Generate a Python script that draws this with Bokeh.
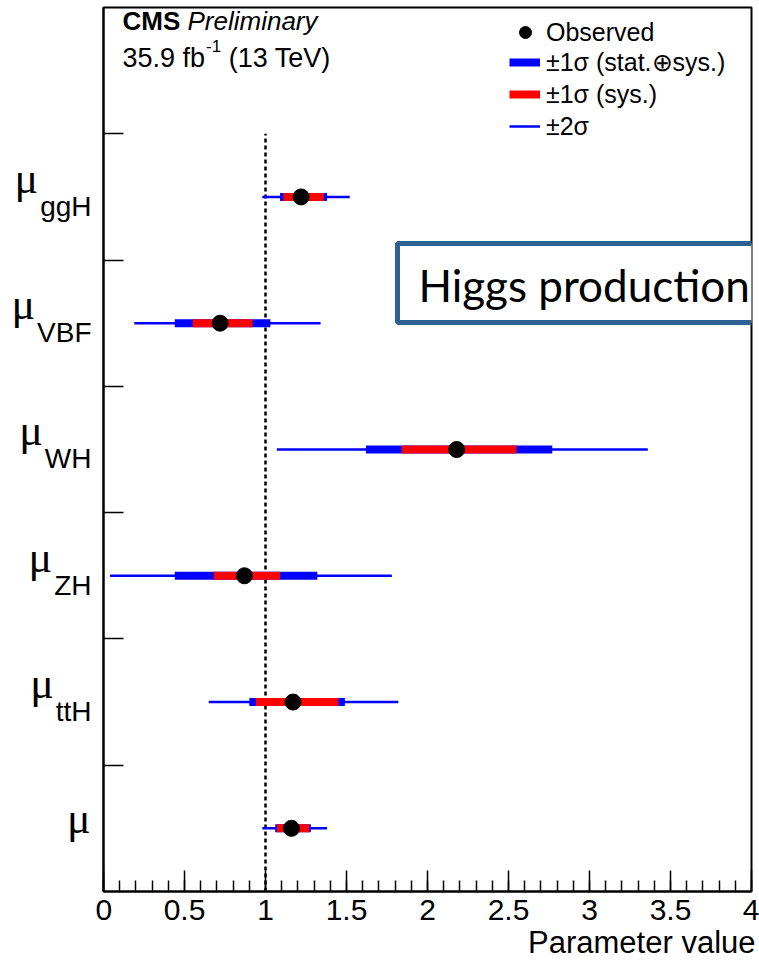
from bokeh.plotting import figure
from bokeh.layouts import row
from bokeh.models import (Range1d, SingleIntervalTicker, FixedTicker, Label, Title,
                          BoxAnnotation, Legend, LegendItem, ColumnDataSource)
from bokeh.core.properties import value
from bokeh.embed import file_html
from bokeh.resources import INLINE

# ---------------- data ----------------
categories = ["ggH", "VBF", "WH", "ZH", "ttH", ""]
positions = [5.5, 4.5, 3.5, 2.5, 1.5, 0.5]
observed = [1.22, 0.72, 2.18, 0.87, 1.17, 1.16]
tot_lo = [1.09, 0.44, 1.62, 0.44, 0.90, 1.06]
tot_hi = [1.38, 1.03, 2.77, 1.32, 1.49, 1.28]
sys_lo = [1.11, 0.55, 1.84, 0.68, 0.94, 1.07]
sys_hi = [1.36, 0.92, 2.55, 1.09, 1.45, 1.27]
two_lo = [0.98, 0.19, 1.07, 0.04, 0.65, 0.98]
two_hi = [1.52, 1.34, 3.36, 1.78, 1.82, 1.38]
x_ticks = [0, 0.5, 1, 1.5, 2, 2.5, 3, 3.5, 4]
x_tick_labels = ["0", "0.5", "1", "1.5", "2", "2.5", "3", "3.5", "4"]
sm_value = 1.0

legend_labels = ["Observed", "\u00b11\u03c3 (stat.\u2295sys.)", "\u00b11\u03c3 (sys.)", "\u00b12\u03c3"]

# ---------------- layout ----------------
W, H = 759, 961
L, R, T, B = 103, 8, 7, 70      # frame edges (canvas px)
LS = 95                          # width of the left label strip
ML = L - LS                      # left border of main figure
FB = H - B                       # frame bottom (canvas px)
PPU = (H - T - B) / 7.0          # pixels per y unit
BL = 0.38                        # baseline correction (em) for rendered text
SANS = "Liberation Sans"

HELV = {"0": .556, "1": .556, "2": .556, "3": .556, "4": .556, "5": .556, "6": .556,
        "7": .556, "8": .556, "9": .556, ".": .278, " ": .278, "f": .278, "b": .556,
        "(": .333, ")": .333, "T": .611, "e": .556, "V": .667, "-": .333, "g": .556,
        "H": .722, "B": .667, "F": .611, "W": .944, "Z": .611, "t": .278}
BOLD = {"C": .722, "M": .833, "S": .667, " ": .278}


def tw(s, size, table=HELV):
    return sum(table.get(c, 0.556) for c in s) * size


yr = Range1d(0, 7)

# ---- main figure ----
p = figure(width=W - LS, height=H, x_range=Range1d(0, 4), y_range=yr,
           output_backend="svg", toolbar_location=None,
           min_border_left=ML, min_border_right=R, min_border_top=T, min_border_bottom=B)
p.grid.visible = False
p.outline_line_color = "black"
p.outline_line_width = 2
p.background_fill_color = "white"
p.border_fill_color = "white"

xa = p.xaxis[0]
xa.ticker = SingleIntervalTicker(interval=0.5, num_minor_ticks=5)
xa.major_label_overrides = {(int(v) if float(v).is_integer() else v): s
                            for v, s in zip(x_ticks, x_tick_labels)}
xa.major_tick_in = 21
xa.major_tick_out = 0
xa.minor_tick_in = 11
xa.minor_tick_out = 0
xa.axis_line_width = 2
xa.major_tick_line_width = 1.5
xa.minor_tick_line_width = 1.5
xa.major_label_text_font = SANS
xa.major_label_text_font_size = "30px"
xa.major_label_text_color = "black"
xa.major_label_standoff = 8

p.add_layout(Title(text="Parameter value", align="right", offset=-4, standoff=1,
                   text_font=SANS, text_font_size="31px", text_font_style="normal",
                   text_color="black"), "below")

ya = p.yaxis[0]
ya.ticker = FixedTicker(ticks=[v + 0.5 for v in positions])
ya.major_label_overrides = {v + 0.5: "" for v in positions}
ya.major_label_standoff = 0
ya.major_tick_in = 20
ya.major_tick_out = 0
ya.minor_tick_in = 0
ya.minor_tick_out = 0
ya.axis_line_width = 2
ya.major_tick_line_width = 1.5

src = ColumnDataSource(dict(pos=positions, obs=observed, tot_lo=tot_lo, tot_hi=tot_hi,
                            sys_lo=sys_lo, sys_hi=sys_hi, two_lo=two_lo, two_hi=two_hi))

p.segment(x0=[sm_value], y0=[0], x1=[sm_value], y1=[len(categories)],
          line_color="black", line_width=2.5, line_dash="4 3")
r2 = p.segment(x0="two_lo", y0="pos", x1="two_hi", y1="pos", source=src,
               line_color="#0000ff", line_width=2.5)
r1 = p.segment(x0="tot_lo", y0="pos", x1="tot_hi", y1="pos", source=src,
               line_color="#0000ff", line_width=8)
rs = p.segment(x0="sys_lo", y0="pos", x1="sys_hi", y1="pos", source=src,
               line_color="#ff0000", line_width=8)
rd = p.scatter(x="obs", y="pos", source=src, size=16, color="black")

leg_common = dict(padding=0, margin=0, border_line_alpha=0, background_fill_alpha=0,
                  label_text_font=SANS, label_text_font_size="25px",
                  label_text_color="black", label_standoff=6)
leg1 = Legend(items=[LegendItem(label=legend_labels[0], renderers=[rd])],
              location=(510 - L, 844), glyph_width=30, glyph_height=30, label_height=30,
              **leg_common)
leg2 = Legend(items=[LegendItem(label=legend_labels[1], renderers=[r1]),
                     LegendItem(label=legend_labels[2], renderers=[rs]),
                     LegendItem(label=legend_labels[3], renderers=[r2])],
              location=(509 - L, 750), glyph_width=31, glyph_height=30, label_height=30,
              spacing=2, **leg_common)
p.add_layout(leg1)
p.add_layout(leg2)

# CMS header
cms_size = 26
x0 = 122 - L
y_cms = FB - (30 - BL * cms_size)
p.add_layout(Label(x=x0, y=y_cms, x_units="screen", y_units="screen", text="CMS",
                   text_font=SANS, text_font_style="bold", text_font_size=f"{cms_size}px",
                   text_baseline="alphabetic", text_color="black"))
p.add_layout(Label(x=x0 + tw("CMS ", cms_size, BOLD), y=y_cms, x_units="screen",
                   y_units="screen", text="Preliminary", text_font=SANS,
                   text_font_style="italic", text_font_size=f"{cms_size}px",
                   text_baseline="alphabetic", text_color="black"))
lumi_size = 27
lumi_a = "35.9 fb"
lumi_b = "-1"
lumi_c = "(13 TeV)"
sup = 17
y_lumi = FB - (68 - BL * lumi_size)
p.add_layout(Label(x=x0, y=y_lumi, x_units="screen", y_units="screen", text=lumi_a,
                   text_font=SANS, text_font_size=f"{lumi_size}px",
                   text_baseline="alphabetic", text_color="black"))
xs = x0 + tw(lumi_a, lumi_size) + 1
p.add_layout(Label(x=xs, y=y_lumi + 12, x_units="screen", y_units="screen", text=lumi_b,
                   text_font=SANS, text_font_size=f"{sup}px",
                   text_baseline="alphabetic", text_color="black"))
xs += tw(lumi_b, sup) + tw(" ", lumi_size)
p.add_layout(Label(x=xs, y=y_lumi, x_units="screen", y_units="screen", text=lumi_c,
                   text_font=SANS, text_font_size=f"{lumi_size}px",
                   text_baseline="alphabetic", text_color="black"))

# "Higgs production" box
p.add_layout(BoxAnnotation(left=397 - L, right=820 - L, top=FB - 243, bottom=FB - 322,
                           left_units="screen", right_units="screen",
                           top_units="screen", bottom_units="screen",
                           fill_color="white", fill_alpha=1.0,
                           line_color="#2d6192", line_width=5, line_alpha=1.0))
hp_size = 44
p.add_layout(Label(x=418 - L, y=FB - (302 - 0.4 * hp_size), x_units="screen", y_units="screen",
                   text="Higgs production", text_font="Lato", text_font_size=f"{hp_size}px",
                   text_baseline="alphabetic", text_color="black"))

# ---- left strip with the category labels ----
lf = figure(width=LS, height=H, x_range=Range1d(0, LS), y_range=yr,
            output_backend="svg", toolbar_location=None,
            x_axis_location=None, y_axis_location=None,
            min_border_left=0, min_border_right=0, min_border_top=T, min_border_bottom=B)
lf.grid.visible = False
lf.outline_line_color = None
lf.background_fill_color = "white"
lf.border_fill_color = "white"

SUB_RIGHT = 91
sub_size = 28
mu_size = 44
sub_x, sub_y, sub_t = [], [], []
mu_x, mu_y = [], []
for cat, pos in zip(categories, positions):
    if cat:
        sub_x.append(SUB_RIGHT)
        sub_y.append(pos - (20 - BL * sub_size) / PPU)
        sub_t.append(cat)
        mu_x.append(SUB_RIGHT - tw(cat, sub_size) - 2)
        mu_y.append(pos + (2 + BL * mu_size) / PPU)
    else:
        mu_x.append(SUB_RIGHT - 1)
        mu_y.append(pos - (7 - BL * mu_size) / PPU)

lf.text(x=sub_x, y=sub_y, text=sub_t, text_font=value(SANS),
        text_font_size=f"{sub_size}px", text_align="right", text_baseline="alphabetic",
        text_color="black")
lf.text(x=mu_x, y=mu_y, text=["\u03bc"] * len(mu_x), text_font=value("Liberation Serif"),
        text_font_size=f"{mu_size}px", text_align="right", text_baseline="alphabetic",
        text_color="black")

layout = row(lf, p)
open("out.html", "w").write(file_html(layout, INLINE))
